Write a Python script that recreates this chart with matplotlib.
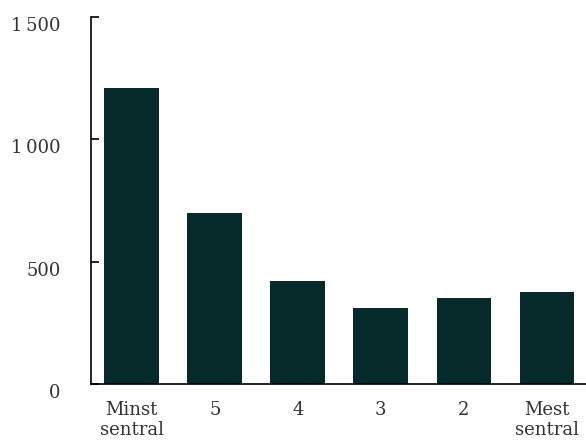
import matplotlib
matplotlib.use("Agg")
import matplotlib.pyplot as plt
import matplotlib.transforms as mtransforms

# Data
categories = ["Minst\nsentral", "5", "4", "3", "2", "Mest\nsentral"]
values = [1210, 700, 421, 311, 352, 377]
yticks = [0, 500, 1000, 1500]
ytick_labels = ["0", "500", "1\u2009000", "1\u2009500"]

plt.rcParams['font.family'] = ['DejaVu Serif']

fig = plt.figure(figsize=(5.86, 4.43), dpi=100)
ax = fig.add_axes([91 / 586, 1 - 384 / 443, 1 - 91 / 586, (384 - 17) / 443])

x = range(len(categories))
ax.bar(x, values, width=0.66, color="#062a2a")

ax.set_xlim(-0.49, 5.47)
ax.set_ylim(0, 1500)
ax.set_xticks(list(x))
ax.set_xticklabels(categories, fontsize=13, color="#333333", linespacing=1.2)
ax.set_yticks(yticks)
ax.set_yticklabels(ytick_labels, fontsize=13, color="#333333")

ax.tick_params(axis="x", length=0, pad=12)
ax.tick_params(axis="y", direction="in", length=6, width=1.2, pad=22)
for s in ["top", "right"]:
    ax.spines[s].set_visible(False)
for s in ["left", "bottom"]:
    ax.spines[s].set_linewidth(1.2)

# y labels sit a bit below their ticks in the reference
shift = mtransforms.ScaledTranslation(0, -7 / 100, fig.dpi_scale_trans)
for lab in ax.get_yticklabels():
    lab.set_transform(lab.get_transform() + shift)

fig.savefig("out.png", dpi=100)
